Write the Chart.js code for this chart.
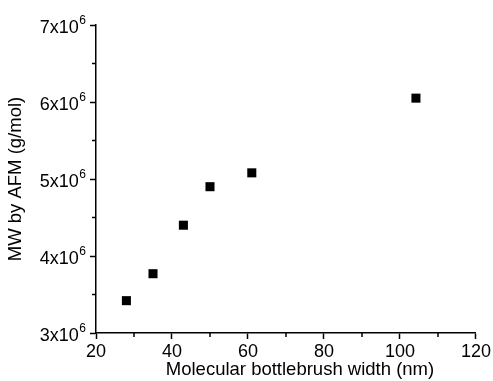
<!doctype html>
<html>
<head>
<meta charset="utf-8">
<title>MW by AFM vs bottlebrush width</title>
<script src="https://cdn.jsdelivr.net/npm/chart.js@4.4.1/dist/chart.umd.min.js"></script>
</head>
<body style="margin:0; background:#fff">
<div style="width:493px; height:381px">
  <canvas id="myChart"></canvas>
</div>
<script>
// data
const widths = [28, 35, 43, 50, 61, 104.2];          // nm
const mwValues = [3.42e6, 3.77e6, 4.40e6, 4.90e6, 5.08e6, 6.05e6]; // g/mol
const xTicks = [20, 40, 60, 80, 100, 120];
const yTicks = [3e6, 4e6, 5e6, 6e6, 7e6];
const yExponent = '6';
const xTitle = 'Molecular bottlebrush width (nm)';

const FONT = 'Liberation Sans, Arial, sans-serif';

// minor ticks, y labels with a real superscript, x title (sits a bit right of centre)
const axisExtras = {
  id: 'axisExtras',
  afterDraw(chart) {
    const c = chart.ctx;
    const xs = chart.scales.x, ys = chart.scales.y;
    c.save();
    c.strokeStyle = '#000';
    c.lineWidth = 1.5;
    for (let i = 0; i < xTicks.length - 1; i++) {
      const px = xs.getPixelForValue((xTicks[i] + xTicks[i + 1]) / 2);
      c.beginPath();
      c.moveTo(px, xs.top);
      c.lineTo(px, xs.top + 4);
      c.stroke();
    }
    for (let i = 0; i < yTicks.length - 1; i++) {
      const py = ys.getPixelForValue((yTicks[i] + yTicks[i + 1]) / 2);
      c.beginPath();
      c.moveTo(ys.right, py);
      c.lineTo(ys.right - 4, py);
      c.stroke();
    }
    c.fillStyle = '#000';
    c.textAlign = 'right';
    c.textBaseline = 'alphabetic';
    const right = ys.right - 10;
    yTicks.forEach(v => {
      const py = ys.getPixelForValue(v);
      c.font = '12px ' + FONT;
      const supW = c.measureText(yExponent).width;
      c.fillText(yExponent, right, py - 1);
      c.font = '18px ' + FONT;
      c.fillText((v / 1e6) + 'x10', right - supW - 0.5, py + 7.5);
    });
    c.font = '18.5px ' + FONT;
    c.textAlign = 'center';
    c.textBaseline = 'middle';
    c.fillText(xTitle, (xs.left + xs.right) / 2 + 14, xs.bottom - 11);
    c.restore();
  }
};

const ctx = document.getElementById('myChart');
new Chart(ctx, {
  type: 'scatter',
  data: {
    datasets: [{
      data: widths.map((w, i) => ({x: w, y: mwValues[i]})),
      pointStyle: 'rect',
      pointRadius: 6.4,
      borderWidth: 0,
      backgroundColor: '#000',
      borderColor: '#000'
    }]
  },
  options: {
    responsive: true,
    maintainAspectRatio: false,
    animation: false,
    layout: { padding: { left: 0, right: 17, top: 25, bottom: 0 } },
    plugins: {
      legend: { display: false },
      tooltip: { enabled: false }
    },
    scales: {
      x: {
        type: 'linear',
        min: 20, max: 120,
        afterBuildTicks(s) { s.ticks = xTicks.map(v => ({value: v})); },
        afterFit(s) { s.height = 48; },
        border: { color: '#000', width: 1.5 },
        grid: { drawOnChartArea: false, tickLength: 6, tickColor: '#000', tickWidth: 1.5 },
        ticks: { color: '#000', font: { family: FONT, size: 18 }, padding: 2, maxRotation: 0 },
        title: { display: false }
      },
      y: {
        min: 3e6, max: 7e6,
        afterBuildTicks(s) { s.ticks = yTicks.map(v => ({value: v})); },
        afterFit(s) { s.width = 96; },
        border: { color: '#000', width: 1.5 },
        grid: { drawOnChartArea: false, tickLength: 6, tickColor: '#000', tickWidth: 1.5 },
        ticks: { display: false },
        title: {
          display: true,
          text: 'MW by AFM (g/mol)',
          color: '#000',
          font: { family: FONT, size: 18.5 },
          padding: { top: 5, bottom: 0 }
        }
      }
    }
  },
  plugins: [axisExtras]
});
</script>
</body>
</html>
